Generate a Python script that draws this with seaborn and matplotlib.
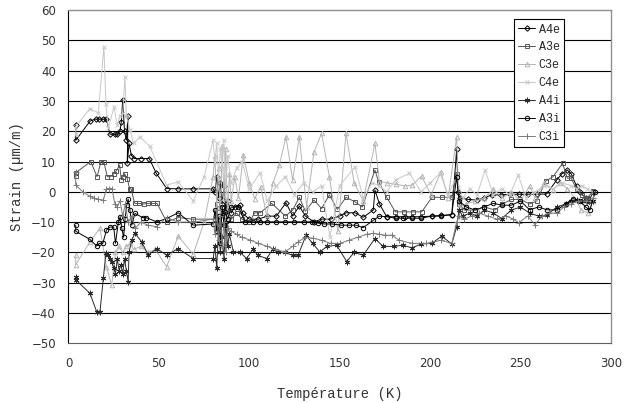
import matplotlib
matplotlib.use("Agg")
import matplotlib.pyplot as plt
import seaborn as sns

# ---------------- data ----------------
A4e_T = [4, 4, 12, 15, 17, 19, 21, 23, 25.5, 27,
         28.5, 29.2, 30, 31, 32, 32.9, 32.5, 33.5, 34.8, 36.5,
         40, 44.7, 48.4, 54.3, 60.7, 69, 80, 81, 82, 83,
         84, 85, 86, 87, 88, 90, 92, 95, 96.3, 100,
         105, 110, 115, 120.3, 124, 127.7, 131, 135.8, 140, 145,
         150, 153.5, 158.5, 163, 168.6, 169.5, 172, 176, 181, 186,
         190, 195, 201, 206, 212, 214.7, 215.5, 216.5, 221, 225.8,
         230, 234, 239, 244, 249, 254, 259, 264.5, 270, 273,
         275.9, 278, 281, 283, 286, 288, 290]
A4e_S = [22, 17, 23.4, 24, 24, 24, 24, 19, 19, 19,
         20, 23, 30.3, 20, 17, 25, 9.4, 16, 12, 11,
         11, 11, 6.3, 1.1, 1, 1, 1, 0, 5, -2,
         3, -4, 2, -6, -3, -7, -5, -4.5, -7.1, -9,
         -9, -8, -8, -3.6, -8, -4.7, -8, -9.9, -9, -9,
         -8, -6.9, -6.9, -8.4, -6, 0.6, -4, -8.2, -8.2, -8.2,
         -8.2, -8.2, -8, -7.8, -7.5, 14, 0, -2, -2.5, -2.7,
         -2, -1, -1, -0.8, -0.8, -0.8, -0.8, -0.7, 3.9, 6,
         7.2, 6, 1.9, 0, -2, -3, 0]

A3e_T = [4, 4, 12.3, 15.8, 18, 19.5, 21.5, 23.4, 25, 26.5,
         28.3, 29.2, 30, 31, 32.5, 33.8, 34.6, 36.6, 39, 41.8,
         44, 46.5, 49, 54.3, 60.7, 69, 81, 82, 83.5, 85,
         86.5, 88, 90, 93, 96, 100, 103, 106, 112.4, 120,
         124, 127.7, 131, 135.8, 140, 144.3, 148.7, 153.5, 158.5, 162.5,
         169.5, 171.5, 176, 180.8, 185.6, 190.5, 195.4, 201, 206.5, 212,
         214.7, 216, 219, 225, 230, 236, 240, 245, 250, 255,
         259, 264, 268, 273.3, 275.9, 278, 281, 284, 287, 290.3]
A3e_S = [5.2, 6.3, 10, 5, 10, 10, 5, 5, 6, 7,
         8.8, 4, 5, 6, 4.4, 1.1, 1, -3.8, -3.8, -4,
         -3.8, -3.8, -3.8, -9.9, -8.5, -9, -9, -4, -13, -7,
         -11, -6, -9, -7, -9, -10, -6.9, -6.9, -3.8, -8,
         -6, -1.8, -6.4, -2.7, -5.5, -1, -5.8, -1.8, -3.3, -5,
         7.2, 3.4, -1.8, -6.6, -6.6, -6.6, -6.6, -1.8, -1.8, -1.8,
         6, -4, -6, -6, -5, -6, -4, -2.5, -2.5, -4,
         -3, 3.6, 5, 9.4, 4.5, 4.5, 1, -1, -2, 0.4]

C3e_T = [4, 4, 11.9, 17.4, 21, 23.9, 26, 28, 30, 32,
         34, 36, 40, 44, 48, 54.3, 60.7, 69, 75, 80,
         81, 82, 83, 84, 85, 86, 87, 88, 89, 90,
         92, 94, 96.7, 100, 103, 106.3, 109.6, 113, 116.6, 120.3,
         124, 127.7, 131.7, 135.8, 140, 144.3, 149, 153.5, 158, 163,
         169.5, 172, 176, 181, 186, 190, 195.3, 200.5, 206, 210,
         214.7, 216, 220, 225, 230, 235, 240, 245, 250, 255,
         258, 263, 268, 272, 276, 281, 283.5, 287.5, 290]
C3e_S = [-21, -24, -16.5, -12, -24.7, -30.8, -20, -18, -20, -18,
         -17, -19, -18, -20, -19, -24.7, -14.6, -20.6, -10, 5,
         12, -5, 8, -10, 15, -2, 14, -8, 6, -3,
         5, -2, 12.1, 3, -2.2, 1.7, -7.7, 2.8, 8.8, 18.2,
         3.9, 18.2, -4.9, 13.2, 19.3, 5, -13, 19.3, 3, -3,
         16, 3.4, 3, 2.5, 2, 2.2, 5.2, -1, 6.6, -2,
         18.2, -5, -4, -3, -2, 0.8, -2, 0, -3, 1.9,
         -2, 3, 0.7, 3, 1, -2.7, -6, -7, -3]

C4e_T = [4, 4, 11.9, 16.5, 19.6, 20.7, 22, 25.2, 27, 28.5,
         30, 31.2, 32, 34, 36, 39.5, 45, 54.3, 60.7, 69,
         75, 80, 81, 82, 83, 84, 85, 86, 87, 88,
         90, 93, 96, 100, 106, 110, 115, 120, 125, 130,
         135, 140, 144.6, 150, 158.5, 163, 168, 172, 176, 181,
         188.6, 195, 200, 205.5, 210, 214.7, 218, 222, 226, 230.4,
         235, 239.6, 244, 248.8, 253, 258, 263, 268, 273, 278,
         281, 284, 287, 290]
C4e_S = [19, 21.5, 27.5, 26, 47.9, 29, 21, 28, 22, 25,
         26, 38, 25, 20.4, 16, 18.2, 15, 2.2, 3.3, -3,
         5, 17, 10, 16, 5, 14, 8, 17, 0, 12,
         3, 8, 10, 1, 6.3, -3, 2, 5, -1, 3,
         0, 2, -14.8, 2, 8.3, -2, 3, 2, 0, 4,
         6.1, 0, 3, 6.1, -1, 5, -2, 1, -1, 7.2,
         -1, 1.1, -1, 5.5, -2, 0, 2, 1, 3, 2,
         1, 2, 1, 0]

A4i_T = [4, 4, 11.9, 15.6, 17.4, 19.3, 20.7, 22, 23, 24,
         25, 26, 27, 28, 29, 30, 31, 32, 33, 33.5,
         35, 36.8, 40.5, 44.1, 48.8, 54.3, 60.7, 69, 80, 81,
         82, 83, 84, 85, 86, 87, 88, 89, 91.2, 95,
         98.5, 102, 105, 109.6, 113, 116, 120, 124, 127, 131.4,
         135, 139, 143, 148.3, 153.9, 158, 163, 169.5, 174, 180,
         185, 190, 195, 201, 206.4, 212, 214.7, 216, 218, 222,
         226, 230, 235, 239.6, 245, 250, 255, 260, 264.5, 270,
         275, 278, 281, 284, 287, 290]
A4i_S = [-28, -29, -33.5, -39.6, -39.6, -28.5, -20.1, -21, -22, -23,
         -25, -27, -22, -26, -24, -27, -22, -26, -29.7, -20,
         -15.9, -13.7, -16.5, -20.9, -18.7, -20.9, -18.7, -22, -22, -18,
         -25, -12, -20, -15, -22, -10, -18, -14, -19.8, -20,
         -22, -19, -21, -22, -19, -20, -20, -21, -20.9, -14.3,
         -17, -19.8, -18, -17.6, -23, -20, -20.9, -15.4, -18, -18,
         -17.6, -18.5, -17.2, -17, -14.6, -17.2, -11.5, -6, -8, -7,
         -8, -6, -7, -8.8, -6, -5, -7, -8, -7.7, -5,
         -4, -3, -2.7, -3, -3, -3]

A3i_T = [4, 4, 11.9, 15.6, 17, 19, 21, 23, 25, 26,
         27.6, 28.6, 29.5, 30.5, 31.3, 32.2, 33, 34, 35, 36.8,
         41, 43, 48.8, 54.3, 60.7, 69, 80, 81, 82, 83,
         84, 85, 86, 86.6, 88, 90, 94, 97.6, 102, 106,
         110, 115, 120, 125, 130, 134.5, 138, 141.5, 145.7, 151,
         155, 159, 163, 168.6, 172, 176, 181, 185, 190, 195,
         201, 206, 212, 214.7, 216, 220, 225, 230, 235, 240,
         245, 250, 255, 260, 264.5, 270, 275, 279, 283, 286,
         288.4, 291.3]
A3i_S = [-11, -13, -15.7, -17.9, -17, -17, -12.6, -11.6, -11.6, -17,
         -9.9, -8.2, -12, -15, -9, -4.4, -2.4, -6, -11, -7.1,
         -8.5, -8.5, -9.9, -8.8, -6.9, -11, -10.6, -6, -13, -8,
         -17, -5, -11, -6.6, -9, -5, -4.9, -9.9, -9.9, -9.9,
         -9.9, -9.9, -9.9, -9.9, -9.9, -9.9, -10.3, -10.6, -10.6, -11,
         -11, -11, -11.8, -9.4, -8, -8.2, -8.7, -8.7, -8.7, -8.7,
         -8, -8, -7.5, 5, -3, -5, -6, -4.9, -3.8, -4.4,
         -4.4, -3, -5.9, -5, -5.9, -6, -4, -2.2, -3, -5,
         -6, 0]

C3i_T = [4, 4, 8, 11.9, 14, 16.5, 19.3, 21, 22.5, 24,
         25.7, 27, 28.5, 30, 31.5, 33, 35, 37, 40, 44,
         48.8, 54.3, 60.7, 69, 80, 81, 82, 83, 84, 85,
         86, 87, 88, 90, 93, 96, 100.4, 105, 110, 114,
         119.7, 124, 127, 131, 135.4, 140, 145, 150, 155, 160,
         165, 168.6, 172, 175, 178.8, 183, 190, 198, 206, 212,
         214.7, 216, 219, 223, 227, 232, 237, 242, 246, 249,
         254, 258, 262, 266, 270, 274, 278, 282, 286, 290]
C3i_S = [6.6, 2.2, 0, -1.5, -2, -2.5, -2.7, 1.1, 1.1, 1.1,
         -4, -5, -3, -8, -4, -10, -8, -12, -10, -11,
         -11.5, -8.5, -10, -10, -9, -14, -6, -16, -8, -18,
         -10, -20, -12, -13, -14, -15, -15.9, -17, -18, -19,
         -19.8, -18, -16.5, -15, -15.3, -16, -17, -17, -16, -15,
         -14, -13.7, -14, -14.3, -14.3, -16, -17, -17, -16, -17,
         -10, -8, -9, -8, -7, -8, -9, -8, -9, -10.2,
         -8, -10.8, -8, -7, -7, -5, -4, -3, -3, -2]

series_names = ["A4e", "A3e", "C3e", "C4e", "A4i", "A3i", "C3i"]
series_T = [A4e_T, A3e_T, C3e_T, C4e_T, A4i_T, A3i_T, C3i_T]
series_S = [A4e_S, A3e_S, C3e_S, C4e_S, A4i_S, A3i_S, C3i_S]

x_ticks = [0, 50, 100, 150, 200, 250, 300]
y_ticks = [-50, -40, -30, -20, -10, 0, 10, 20, 30, 40, 50, 60]

# ---------------- styles ----------------
styles = {
    "A4e": dict(color="#000000", marker="D", ms=2.8),
    "A3e": dict(color="#555555", marker="s", ms=3.2),
    "C3e": dict(color="#b4b4b4", marker="^", ms=3.3),
    "C4e": dict(color="#c8c8c8", marker="x", ms=3.3),
    "A4i": dict(color="#2a2a2a", marker=(6, 2, 0), ms=4.0),
    "A3i": dict(color="#000000", marker="o", ms=3.2),
    "C3i": dict(color="#7a7a7a", marker="+", ms=4.2),
}

sns.set_style("white")
plt.rcParams["font.family"] = ["DejaVu Sans"]

fig = plt.figure(figsize=(6.37, 4.03), dpi=100)
ax = fig.add_axes([0.1075, 0.148, 0.8515, 0.827])

for name, T, S in zip(series_names, series_T, series_S):
    st = styles[name]
    sns.lineplot(x=T, y=S, ax=ax, sort=False, estimator=None,
                 color=st["color"], linewidth=0.7,
                 marker=st["marker"], markersize=st["ms"],
                 markerfacecolor="none", markeredgecolor=st["color"],
                 markeredgewidth=0.7, label=name)

ax.set_xlim(0, 300)
ax.set_ylim(-50, 60)
ax.set_xticks(x_ticks)
ax.set_yticks(y_ticks)
for y in y_ticks[1:-1]:
    ax.axhline(y, color="black", linewidth=0.8, zorder=0)

for side in ["top", "right"]:
    ax.spines[side].set_color("#909090")
    ax.spines[side].set_linewidth(1.0)
ax.spines["left"].set_color("#000000")
ax.spines["bottom"].set_color("#606060")
for s in ax.spines.values():
    s.set_visible(True)

ax.tick_params(axis="both", direction="out", length=4, width=0.8,
               color="#333333", labelsize=8.5, labelcolor="#333333", pad=6)
ax.tick_params(axis="y", length=3)

ax.set_xlabel("Température (K)", family="Liberation Mono", fontsize=10,
              color="#333333", labelpad=12)
ax.set_ylabel("Strain (µm/m)", family="Liberation Mono", fontsize=10,
              color="#333333", labelpad=5)

leg = ax.legend(loc="upper right", bbox_to_anchor=(0.913, 0.972),
                prop={"family": "Liberation Mono", "size": 8.5},
                frameon=True, fancybox=False, edgecolor="black",
                handlelength=1.4, handletextpad=0.3, labelspacing=0.5,
                borderpad=0.35, borderaxespad=0.0)
leg.get_frame().set_linewidth(0.8)
leg.get_frame().set_facecolor("white")
leg.get_frame().set_alpha(1)

fig.savefig("out.png", dpi=100)
